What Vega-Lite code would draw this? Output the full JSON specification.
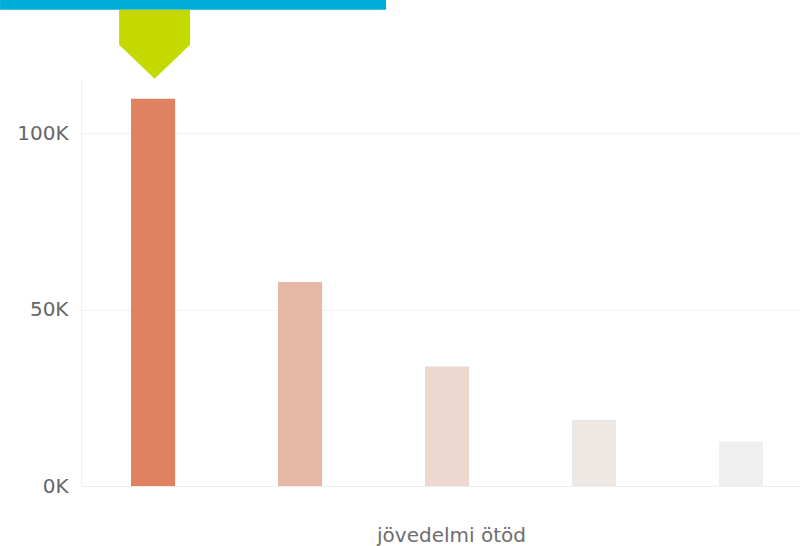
{
  "$schema": "https://vega.github.io/schema/vega-lite/v6.json",
  "width": 719,
  "height": 406,
  "autosize": {"type": "none"},
  "padding": {"left": 81, "top": 80, "right": 0, "bottom": 60},
  "background": "white",
  "config": {"view": {"stroke": null}, "font": "DejaVu Sans"},
  "data": {
    "values": [
      {"otod": "1", "ertek": 109800},
      {"otod": "2", "ertek": 57800},
      {"otod": "3", "ertek": 33900},
      {"otod": "4", "ertek": 18800},
      {"otod": "5", "ertek": 12600}
    ]
  },
  "encoding": {
    "x": {
      "field": "otod",
      "type": "nominal",
      "sort": null,
      "scale": {"paddingInner": 0.7, "paddingOuter": 0.296, "align": 0.575},
      "axis": {
        "title": "jövedelmi ötöd",
        "labels": false,
        "ticks": false,
        "domain": true,
        "domainColor": "#eeeeee",
        "domainWidth": 1,
        "titleFont": "DejaVu Sans",
        "titleFontSize": 20,
        "titleFontWeight": "normal",
        "titleColor": "#6e6e6e",
        "titleX": 370,
        "titleY": 55,
        "titleBaseline": "alphabetic"
      }
    },
    "y": {
      "field": "ertek",
      "type": "quantitative",
      "scale": {"domain": [0, 115100], "nice": false},
      "axis": {
        "title": null,
        "values": [0, 50000, 100000],
        "labelExpr": "format(datum.value / 1000, 'd') + 'K'",
        "labelFont": "DejaVu Sans",
        "labelFontSize": 20,
        "labelColor": "#666666",
        "labelPadding": 13,
        "ticks": false,
        "domain": true,
        "domainColor": "#f0f0f0",
        "grid": true,
        "gridColor": "#f2f2f2",
        "gridWidth": 1
      }
    }
  },
  "layer": [
    {
      "mark": {"type": "bar"},
      "encoding": {
        "color": {
          "field": "otod",
          "type": "nominal",
          "scale": {
            "domain": ["1", "2", "3", "4", "5"],
            "range": ["#DF8262", "#E8B8A6", "#EDD7CF", "#EEE8E5", "#EFEFEF"]
          },
          "legend": null
        }
      }
    },
    {
      "transform": [{"filter": "datum.otod === '1'"}],
      "mark": {
        "type": "point",
        "filled": true,
        "opacity": 1,
        "size": 40000,
        "color": "#00ADD8",
        "shape": "M-1.53,-0.995H2.33V-0.89H-1.53Z"
      },
      "encoding": {}
    },
    {
      "transform": [{"filter": "datum.otod === '1'"}],
      "mark": {
        "type": "point",
        "filled": true,
        "opacity": 1,
        "size": 40000,
        "color": "#C4D900",
        "shape": "M-0.34,-0.89L0.37,-0.89L0.37,-0.54L0.015,-0.2L-0.34,-0.54Z"
      },
      "encoding": {}
    }
  ]
}
